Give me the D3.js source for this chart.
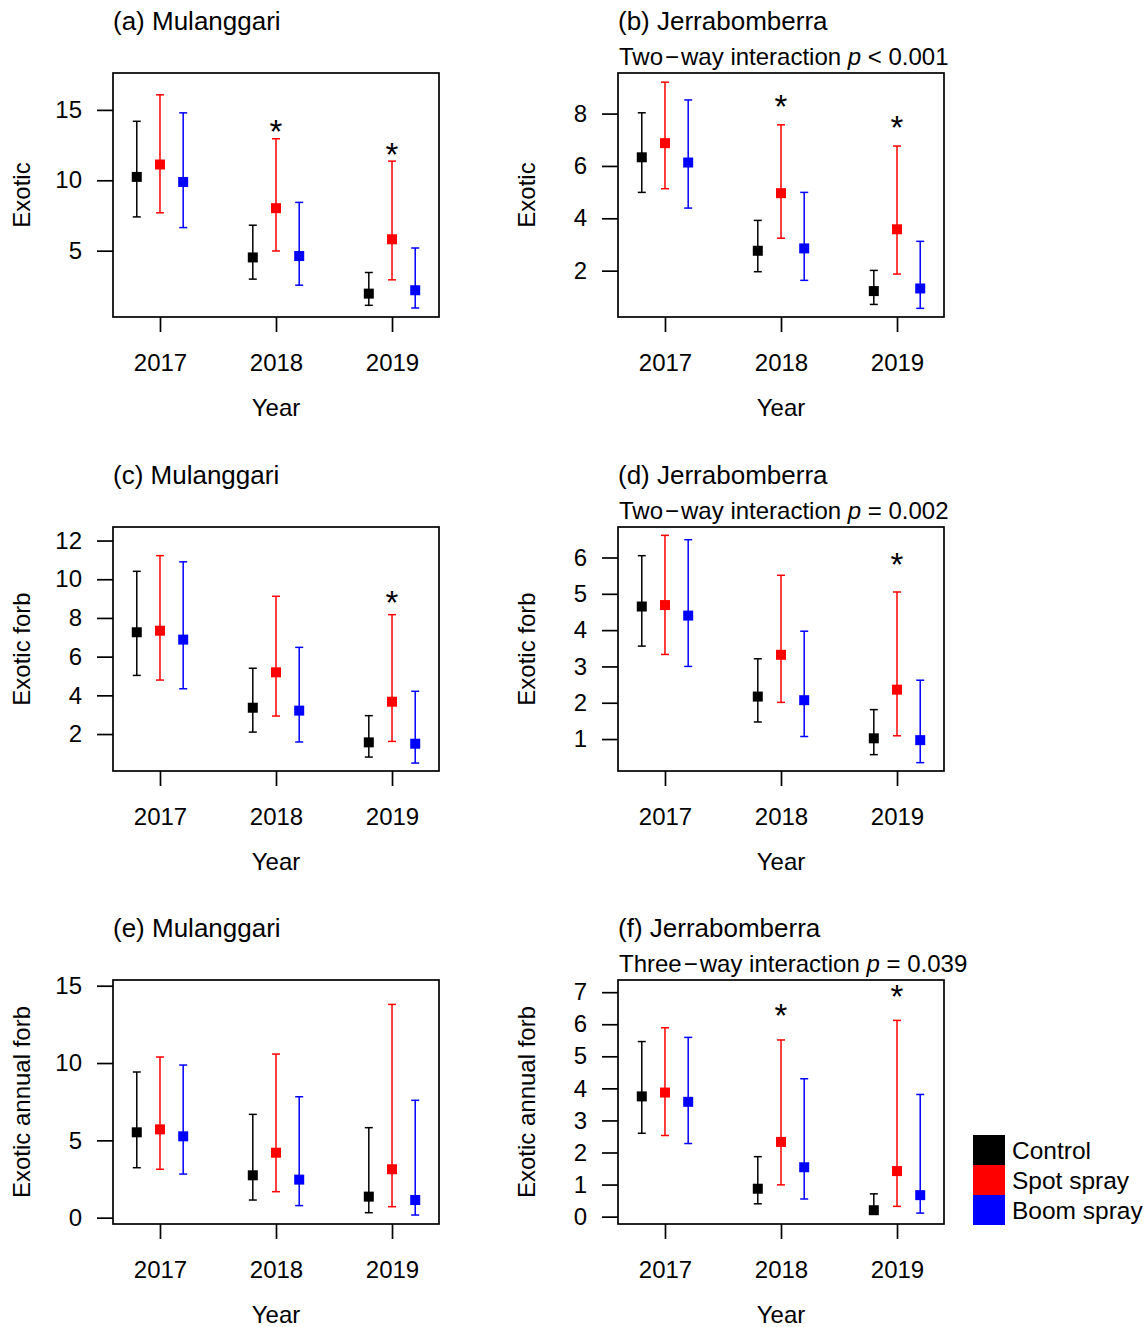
<!DOCTYPE html>
<html>
<head>
<meta charset="utf-8">
<script src="https://cdn.jsdelivr.net/npm/d3@7"></script>
<style>
body { margin: 0; background: #fff; }
text { font-family: "Liberation Sans", Arial, sans-serif; }
</style>
</head>
<body>
<div id="chart"></div>
<script>
var years = [2017, 2018, 2019]
var treatments = ["Control", "Spot spray", "Boom spray"]
var colours = ["#000000", "#ff0000", "#0000ff"]
var offsets = [-0.2, 0, 0.2]

// values ordered 2017 (control, spot, boom), 2018 (...), 2019 (...)
var aMean = [10.24, 11.12, 9.88, 4.52, 8.02, 4.62, 1.95, 5.81, 2.19]
var aLow = [7.40, 7.69, 6.64, 2.98, 4.98, 2.55, 1.12, 2.93, 0.93]
var aHigh = [14.19, 16.07, 14.79, 6.81, 12.95, 8.43, 3.45, 11.36, 5.19]
var aStars = [2018, 2019]
var aTicks = [5, 10, 15]

var bMean = [6.33, 6.87, 6.13, 2.76, 4.96, 2.85, 1.22, 3.58, 1.32]
var bLow = [4.99, 5.13, 4.39, 1.96, 3.24, 1.63, 0.71, 1.87, 0.56]
var bHigh = [8.03, 9.20, 8.52, 3.92, 7.57, 4.99, 2.01, 6.76, 3.12]
var bStars = [2018, 2019]
var bTicks = [2, 4, 6, 8]

var cMean = [7.26, 7.34, 6.88, 3.36, 5.19, 3.21, 1.57, 3.67, 1.50]
var cLow = [5.03, 4.79, 4.34, 2.10, 2.93, 1.59, 0.81, 1.62, 0.50]
var cHigh = [10.41, 11.22, 10.90, 5.40, 9.12, 6.48, 2.95, 8.17, 4.21]
var cStars = [2019]
var cTicks = [2, 4, 6, 8, 10, 12]

var dMean = [4.65, 4.69, 4.40, 2.17, 3.32, 2.07, 1.02, 2.36, 0.97]
var dLow = [3.56, 3.33, 3.00, 1.47, 2.01, 1.07, 0.57, 1.09, 0.35]
var dHigh = [6.05, 6.61, 6.49, 3.21, 5.51, 3.97, 1.81, 5.05, 2.62]
var dStars = [2019]
var dTicks = [1, 2, 3, 4, 5, 6]

var eMean = [5.52, 5.71, 5.26, 2.74, 4.20, 2.46, 1.36, 3.13, 1.14]
var eLow = [3.23, 3.13, 2.82, 1.14, 1.68, 0.78, 0.32, 0.71, 0.17]
var eHigh = [9.42, 10.39, 9.87, 6.68, 10.58, 7.82, 5.82, 13.79, 7.59]
var eStars = []
var eTicks = [0, 5, 10, 15]

var fMean = [3.75, 3.87, 3.58, 0.87, 2.33, 1.54, 0.20, 1.42, 0.67]
var fLow = [2.60, 2.53, 2.28, 0.40, 0.99, 0.55, 0.08, 0.32, 0.11]
var fHigh = [5.46, 5.89, 5.59, 1.87, 5.51, 4.30, 0.71, 6.12, 3.81]
var fStars = [2018, 2019]
var fTicks = [0, 1, 2, 3, 4, 5, 6, 7]

var panels = [
    {title: "(a) Mulanggari", sub: null, ylab: "Exotic", mean: aMean, low: aLow, high: aHigh, stars: aStars, ticks: aTicks, ydom: [0.29, 17.62], col: 0, row: 0},
    {title: "(b) Jerrabomberra", sub: ["Two", "way interaction ", "p", " < 0.001"], ylab: "Exotic", mean: bMean, low: bLow, high: bHigh, stars: bStars, ticks: bTicks, ydom: [0.23, 9.55], col: 1, row: 0},
    {title: "(c) Mulanggari", sub: null, ylab: "Exotic forb", mean: cMean, low: cLow, high: cHigh, stars: cStars, ticks: cTicks, ydom: [0.09, 12.70], col: 0, row: 1},
    {title: "(d) Jerrabomberra", sub: ["Two", "way interaction ", "p", " = 0.002"], ylab: "Exotic forb", mean: dMean, low: dLow, high: dHigh, stars: dStars, ticks: dTicks, ydom: [0.12, 6.84], col: 1, row: 1},
    {title: "(e) Mulanggari", sub: null, ylab: "Exotic annual forb", mean: eMean, low: eLow, high: eHigh, stars: eStars, ticks: eTicks, ydom: [-0.41, 15.37], col: 0, row: 2},
    {title: "(f) Jerrabomberra", sub: ["Three", "way interaction ", "p", " = 0.039"], ylab: "Exotic annual forb", mean: fMean, low: fLow, high: fHigh, stars: fStars, ticks: fTicks, ydom: [-0.23, 7.38], col: 1, row: 2}
]

var width = 1148, height = 1327
var boxLeft = [113, 618]
var boxW = 326
var boxTop = [73, 527, 980]
var boxH = 244
var starGap = 0.95

var svg = d3.select("#chart").append("svg")
    .attr("width", width)
    .attr("height", height)

svg.append("rect").attr("width", width).attr("height", height).attr("fill", "#fff")

panels.forEach(function(p) {
    var x0 = boxLeft[p.col], y0 = boxTop[p.row]
    var g = svg.append("g").attr("transform", "translate(" + x0 + "," + y0 + ")")

    var x = d3.scaleLinear().domain([2016.595, 2019.405]).range([0, boxW])
    var y = d3.scaleLinear().domain(p.ydom).range([boxH, 0])

    // y axis
    var yAxis = g.append("g").call(d3.axisLeft(y).tickValues(p.ticks).tickSize(16).tickPadding(15).tickFormat(d3.format("d")))
    yAxis.select(".domain").remove()
    yAxis.selectAll("line").attr("stroke-width", 1.7)
    yAxis.selectAll("text").attr("font-size", 24).attr("fill", "#000")

    // x axis
    var xAxis = g.append("g").attr("transform", "translate(0," + boxH + ")")
        .call(d3.axisBottom(x).tickValues(years).tickSize(15).tickPadding(22).tickFormat(d3.format("d")))
    xAxis.select(".domain").remove()
    xAxis.selectAll("line").attr("stroke-width", 1.7)
    xAxis.selectAll("text").attr("font-size", 24).attr("fill", "#000")

    g.append("rect").attr("width", boxW).attr("height", boxH)
        .attr("fill", "none").attr("stroke", "#000").attr("stroke-width", 1.7)

    var pts = []
    years.forEach(function(yr, i) {
        treatments.forEach(function(t, j) {
            var k = i * 3 + j
            pts.push({year: yr, j: j, mean: p.mean[k], low: p.low[k], high: p.high[k]})
        })
    })

    var bars = g.selectAll(".bar").data(pts).join("g").attr("class", "bar")
        .attr("stroke", d => colours[d.j]).attr("stroke-width", 1.5)
    bars.append("line")
        .attr("x1", d => x(d.year + offsets[d.j])).attr("x2", d => x(d.year + offsets[d.j]))
        .attr("y1", d => y(d.low)).attr("y2", d => y(d.high))
    bars.append("line")
        .attr("x1", d => x(d.year + offsets[d.j]) - 4).attr("x2", d => x(d.year + offsets[d.j]) + 4)
        .attr("y1", d => y(d.low)).attr("y2", d => y(d.low))
    bars.append("line")
        .attr("x1", d => x(d.year + offsets[d.j]) - 4).attr("x2", d => x(d.year + offsets[d.j]) + 4)
        .attr("y1", d => y(d.high)).attr("y2", d => y(d.high))
    g.selectAll(".pt").data(pts).join("rect").attr("class", "pt")
        .attr("x", d => x(d.year + offsets[d.j]) - 5)
        .attr("y", d => y(d.mean) - 5)
        .attr("width", 10).attr("height", 10)
        .attr("fill", d => colours[d.j])

    // stars above spot spray
    g.selectAll(".star").data(p.stars).join("text").attr("class", "star")
        .attr("x", d => x(d))
        .attr("y", d => y(p.high[years.indexOf(d) * 3 + 1] + starGap) + 18)
        .attr("text-anchor", "middle")
        .attr("font-size", 33)
        .text("*")

    g.append("text").attr("x", 0).attr("y", -43).attr("font-size", 26).text(p.title)
    if (p.sub) {
        var st = g.append("text").attr("x", 1).attr("y", -8).attr("font-size", 24)
        st.append("tspan").text(p.sub[0])
        st.append("tspan").attr("dx", 2).text("\u2212")
        st.append("tspan").attr("dx", 2).text(p.sub[1])
        st.append("tspan").attr("font-style", "italic").text(p.sub[2])
        st.append("tspan").text(p.sub[3])
    }

    g.append("text")
        .attr("transform", "translate(-83," + (boxH / 2) + ") rotate(-90)")
        .attr("text-anchor", "middle").attr("font-size", 24).text(p.ylab)
    g.append("text").attr("x", x(2018)).attr("y", boxH + 99)
        .attr("text-anchor", "middle").attr("font-size", 24).text("Year")
})

// legend
var legend = svg.append("g").attr("transform", "translate(973,1135)")
legend.selectAll("rect").data(treatments).join("rect")
    .attr("x", 0).attr("y", (d, i) => i * 30)
    .attr("width", 32).attr("height", 30)
    .attr("fill", (d, i) => colours[i])
legend.selectAll("text").data(treatments).join("text")
    .attr("x", 39).attr("y", (d, i) => i * 30 + 24)
    .attr("font-size", 24.5)
    .text(d => d)
</script>
</body>
</html>
